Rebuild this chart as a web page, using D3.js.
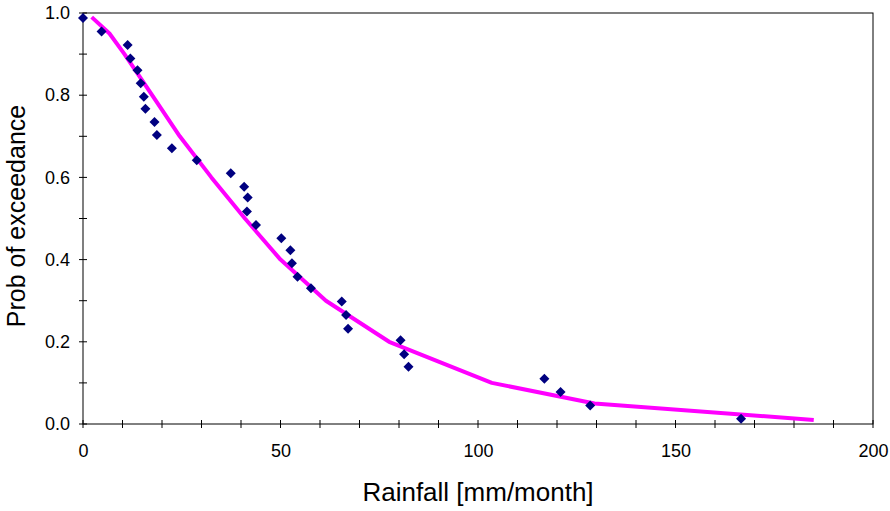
<!DOCTYPE html>
<html>
<head>
<meta charset="utf-8">
<script src="https://cdn.jsdelivr.net/npm/d3@7"></script>
<style>
  body { margin: 0; background: #fff; }
  svg { display: block; font-family: "Liberation Sans", Arial, sans-serif; }
</style>
</head>
<body>
<div id="chart"></div>
<script>
// observed monthly rainfall and plotting positions
const rainfall = [0, 4.7, 11.3, 12.0, 13.8, 14.6, 15.4, 15.8, 18.1, 18.7, 22.5, 28.8,
    37.4, 40.8, 41.7, 41.5, 43.8, 50.2, 52.5, 52.9, 54.3, 57.7, 65.5, 66.6, 67.1,
    80.4, 81.3, 82.4, 116.8, 120.9, 128.4, 166.6];
const probObs = [0.988, 0.955, 0.922, 0.889, 0.861, 0.829, 0.796, 0.767, 0.735, 0.703,
    0.671, 0.642, 0.610, 0.577, 0.551, 0.517, 0.484, 0.452, 0.423, 0.391, 0.358, 0.330,
    0.298, 0.265, 0.232, 0.204, 0.170, 0.139, 0.110, 0.078, 0.045, 0.013];

// fitted curve
const fitRain = [2.2, 6.7, 10.5, 17.5, 24.5, 32.5, 41.0, 50.0, 61.5, 77.5, 103.5, 129.5, 185];
const fitProb = [0.99, 0.95, 0.9, 0.8, 0.7, 0.6, 0.5, 0.4, 0.3, 0.2, 0.1, 0.05, 0.01];

const xTicks = [0, 50, 100, 150, 200];
const yTicks = [0, 0.2, 0.4, 0.6, 0.8, 1.0];

const width = 890, height = 511;
const margin = { top: 13, right: 17, bottom: 87, left: 83 };
const w = width - margin.left - margin.right;
const h = height - margin.top - margin.bottom;

const svg = d3.select("#chart").append("svg")
    .attr("width", width)
    .attr("height", height);

const g = svg.append("g")
    .attr("transform", `translate(${margin.left},${margin.top})`);

const x = d3.scaleLinear().domain([0, 200]).range([0, w]);
const y = d3.scaleLinear().domain([0, 1]).range([h, 0]);

// frame
g.append("rect")
    .attr("x", 0).attr("y", 0)
    .attr("width", w).attr("height", h)
    .attr("fill", "none")
    .attr("stroke", "#000")
    .attr("stroke-width", 1);

// minor ticks (crossing the axis)
g.append("g")
    .selectAll("line")
    .data(d3.range(0, 201, 10))
    .enter().append("line")
    .attr("x1", d => x(d)).attr("x2", d => x(d))
    .attr("y1", h - 4).attr("y2", h + 4)
    .attr("stroke", "#000");

g.append("g")
    .selectAll("line")
    .data(d3.range(0, 11).map(d => d / 10))
    .enter().append("line")
    .attr("x1", -4).attr("x2", 4)
    .attr("y1", d => y(d)).attr("y2", d => y(d))
    .attr("stroke", "#000");

// x axis
g.append("g")
    .attr("transform", `translate(0,${h})`)
    .call(d3.axisBottom(x).tickValues(xTicks).tickFormat(d3.format("d")).tickSize(0).tickPadding(20))
    .call(g => g.select(".domain").remove())
    .call(g => g.selectAll(".tick text")
        .attr("fill", "#000")
        .attr("font-size", "18px")
        .attr("font-family", "Liberation Sans, Arial, sans-serif"));

// y axis
g.append("g")
    .call(d3.axisLeft(y).tickValues(yTicks).tickFormat(d3.format(".1f")).tickSize(0).tickPadding(13))
    .call(g => g.select(".domain").remove())
    .call(g => g.selectAll(".tick text")
        .attr("fill", "#000")
        .attr("font-size", "18px")
        .attr("font-family", "Liberation Sans, Arial, sans-serif"));

// fitted line
const line = d3.line()
    .x((d, i) => x(fitRain[i]))
    .y(d => y(d));

g.append("path")
    .datum(fitProb)
    .attr("fill", "none")
    .attr("stroke", "#FF00FF")
    .attr("stroke-width", 4)
    .attr("stroke-linejoin", "round")
    .attr("d", line);

// observed points
const diamond = d3.symbol().type(d3.symbolSquare).size(50);
g.append("g")
    .selectAll("path")
    .data(probObs)
    .enter().append("path")
    .attr("d", diamond)
    .attr("transform", (d, i) => `translate(${x(rainfall[i])},${y(d)}) rotate(45)`)
    .attr("fill", "#000080");

// axis titles
svg.append("text")
    .attr("x", margin.left + w / 2)
    .attr("y", 501)
    .attr("text-anchor", "middle")
    .attr("font-size", "26px")
    .text("Rainfall [mm/month]");

svg.append("text")
    .attr("transform", "translate(25,216) rotate(-90)")
    .attr("text-anchor", "middle")
    .attr("font-size", "25px")
    .text("Prob of exceedance");
</script>
</body>
</html>
